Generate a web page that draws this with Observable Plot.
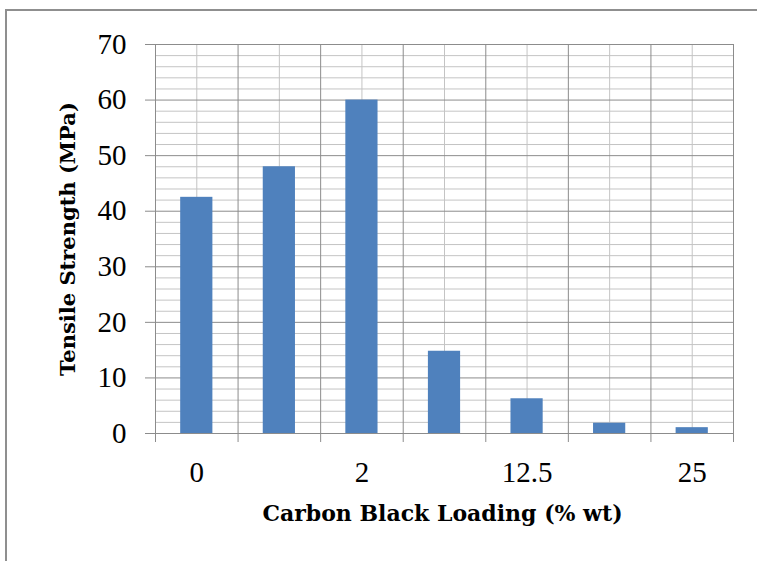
<!DOCTYPE html>
<html><head><meta charset="utf-8">
<script src="https://cdn.jsdelivr.net/npm/d3@7"></script>
<script src="https://cdn.jsdelivr.net/npm/@observablehq/plot@0.6"></script>
<style>
body{margin:0;background:#fff;}
#wrap{position:relative;width:757px;height:561px;overflow:hidden;background:#fff;}
#frame{position:absolute;left:5px;top:9px;width:800px;height:600px;border-left:2px solid #8f8f8f;border-top:2px solid #8f8f8f;pointer-events:none;}
#chart{position:absolute;left:0;top:0;}
#chart [aria-label="y-axis tick label"] text, #chart [aria-label="x-axis tick label"] text{font-family:"Liberation Serif", serif;}
</style></head><body>
<div id="wrap"><div id="chart"></div><div id="frame"></div></div>
<script>
// Data
const categories = ["0", "1", "2", "5", "12.5", "20", "25"];
const tensile = [42.5, 48.0, 60.0, 14.8, 6.25, 1.85, 1.05];
const shownLabels = ["0", "2", "12.5", "25"];
const yMajorTicks = [0, 10, 20, 30, 40, 50, 60, 70];
const yMinorTicks = [2,4,6,8,12,14,16,18,22,24,26,28,32,34,36,38,42,44,46,48,52,54,56,58,62,64,66,68];

const rows = categories.map((c, i) => ({cat: c, i, value: tensile[i]}));
const bandEdges = d3.range(0, categories.length + 1);
const bandCenters = categories.map((c, i) => i + 0.5);
const labelCenters = categories.map((c, i) => ({c, pos: i + 0.5})).filter(d => shownLabels.includes(d.c));
const gap = 0.305;

const chart = Plot.plot({
  width: 757,
  height: 561,
  marginLeft: 155,
  marginRight: 24,
  marginTop: 44,
  marginBottom: 128,
  style: {fontFamily: "Liberation Serif", fontSize: "29px", color: "#000", background: "transparent"},
  x: {domain: [0, categories.length], axis: null},
  y: {domain: [0, 70], axis: null},
  marks: [
    Plot.ruleY(yMinorTicks, {stroke: "#c4c4c4", strokeWidth: 1}),
    Plot.ruleX(bandCenters, {stroke: "#c4c4c4", strokeWidth: 1}),
    Plot.ruleY(yMajorTicks, {stroke: "#8c8c8c", strokeWidth: 1}),
    Plot.ruleX(bandEdges, {stroke: "#8c8c8c", strokeWidth: 1}),
    Plot.rectY(rows, {x1: d => d.i + gap, x2: d => d.i + 1 - gap, y: "value", fill: "#4f81bd"}),
    Plot.ruleY([0], {stroke: "#8c8c8c", strokeWidth: 1}),
    Plot.axisY(yMajorTicks, {tickSize: 10, tickPadding: 19, stroke: "#8c8c8c", fill: "#000",
      fontFamily: "Liberation Serif", fontSize: 29, label: null}),
    Plot.axisX(bandEdges, {tickSize: 9, stroke: "#8c8c8c", tickFormat: () => "", label: null}),
    Plot.axisX(labelCenters.map(d => d.pos), {tickSize: 0, tickPadding: 28, fill: "#000",
      fontFamily: "Liberation Serif", fontSize: 29,
      tickFormat: p => categories[Math.round(p - 0.5)], label: null}),
    Plot.text(["Tensile Strength (MPa)"], {frameAnchor: "left", dx: -87, rotate: -90, textAnchor: "middle",
      fontFamily: "DejaVu Serif", fontWeight: "bold", fontSize: 21, fill: "#000"}),
    Plot.text(["Carbon Black Loading (% wt)"], {frameAnchor: "bottom", dy: 87, dx: -2, textAnchor: "middle",
      fontFamily: "DejaVu Serif", fontWeight: "bold", fontSize: 22, fill: "#000"})
  ]
});
document.getElementById("chart").appendChild(chart);
</script>
</body></html>
